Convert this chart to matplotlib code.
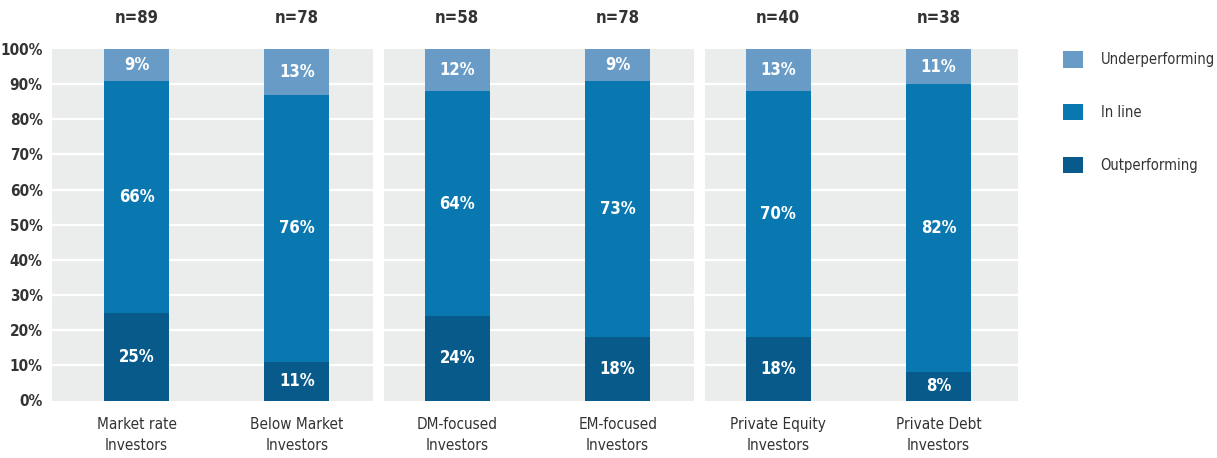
import matplotlib
matplotlib.use("Agg")
import matplotlib.pyplot as plt
import numpy as np

# -------------------------------------------------------------------------------------
# Data
categories = ["Market rate\nInvestors", "Below Market\nInvestors", "DM-focused\nInvestors",
              "EM-focused\nInvestors", "Private Equity\nInvestors", "Private Debt\nInvestors"]
n_labels = ["n=89", "n=78", "n=58", "n=78", "n=40", "n=38"]
outperforming = [25, 11, 24, 18, 18, 8]
in_line = [66, 76, 64, 73, 70, 82]
underperforming = [9, 13, 12, 9, 13, 11]
y_ticks = [0, 10, 20, 30, 40, 50, 60, 70, 80, 90, 100]
# -------------------------------------------------------------------------------------

plt.rcParams['font.family'] = ['DejaVu Sans']
plt.rcParams['font.stretch'] = 'condensed'

col_out = "#075a8a"
col_in = "#0a78b0"
col_under = "#689cc6"
col_bg = "#ebeded"
col_txt = "#333333"

fig = plt.figure(figsize=(12.17, 4.58), dpi=100)
ax = fig.add_axes([52.3 / 1217, 1 - 400.5 / 458, (1018 - 52.3) / 1217, (400.5 - 49) / 458])

x = np.arange(len(categories))
width = 0.405

# panel backgrounds
for x0, x1 in [(-0.525, 1.477), (1.541, 3.476), (3.544, 5.496)]:
    ax.axvspan(x0, x1, color=col_bg, zorder=0, lw=0)
for yv in y_ticks[1:-1]:
    ax.axhline(yv, color="white", lw=1.6, zorder=1)

out = np.array(outperforming)
inl = np.array(in_line)
und = np.array(underperforming)

b1 = ax.bar(x, out, width, color=col_out, zorder=2, label="Outperforming")
b2 = ax.bar(x, inl, width, bottom=out, color=col_in, zorder=2, label="In line")
b3 = ax.bar(x, und, width, bottom=out + inl, color=col_under, zorder=2, label="Underperforming")

for bars, vals in [(b1, out), (b2, inl), (b3, und)]:
    ax.bar_label(bars, labels=["%d%%" % v for v in vals], label_type="center",
                 color="white", fontsize=12, fontweight="bold")

for xi, lab in zip(x, n_labels):
    ax.text(xi, 1.088, lab, transform=ax.get_xaxis_transform(), ha="center", va="center",
            fontsize=12, fontweight="bold", color=col_txt)

ax.set_xlim(-0.525, 5.496)
ax.set_ylim(0, 100)
ax.set_yticks(y_ticks)
ax.set_yticklabels(["%d%%" % v for v in y_ticks], fontsize=11, color=col_txt, fontweight="bold")
ax.set_xticks(x)
ax.set_xticklabels(categories, fontsize=11, color=col_txt, linespacing=1.45)
ax.tick_params(length=0, pad=7)
ax.tick_params(axis="x", pad=12)
for s in ax.spines.values():
    s.set_visible(False)

fig.legend(handles=[b3, b2, b1], labels=["Underperforming", "In line", "Outperforming"],
           loc="upper left", bbox_to_anchor=(1050 / 1217, 1 - 38 / 458), frameon=False,
           fontsize=10.5, handlelength=1.37, handleheight=1.37, labelspacing=2.48,
           handletextpad=1.2, labelcolor=col_txt)

fig.savefig("out.png", dpi=100)
